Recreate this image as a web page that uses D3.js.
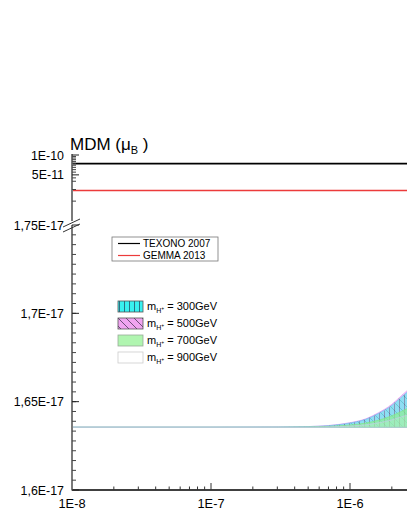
<!DOCTYPE html>
<html>
<head>
<meta charset="utf-8">
<script src="https://cdn.jsdelivr.net/npm/d3@7"></script>
<style>
  body { margin: 0; background: #fff; }
  svg { display: block; font-family: Arial, "Liberation Sans", sans-serif; }
</style>
</head>
<body>
<div class="chart"></div>
<script>
var w = 407;
var h = 527;

// x values (mass parameter)
var xs = [1e-8, 1e-7, 3e-7, 5e-7, 7e-7, 1e-6, 1.3e-6, 1.6e-6, 2e-6, 2.3e-6, 2.6e-6];
// band bounds, in units of 1E-17 muB
var low = [1.6355, 1.6355, 1.6355, 1.6355, 1.6355, 1.6355, 1.6355, 1.6355, 1.6355, 1.6355, 1.6355];
var up300 = [1.6355, 1.6355, 1.6356, 1.6359, 1.6364, 1.6379, 1.6400, 1.6433, 1.6479, 1.6520, 1.6556];
var up500 = [1.6355, 1.6355, 1.6356, 1.6359, 1.6365, 1.6381, 1.6403, 1.6437, 1.6485, 1.6528, 1.6565];
var up700 = [1.6355, 1.6355, 1.6355, 1.6357, 1.6360, 1.6368, 1.6379, 1.6395, 1.6420, 1.6442, 1.6462];
var up900 = [1.6355, 1.6355, 1.6355, 1.6356, 1.6357, 1.6362, 1.6369, 1.6380, 1.6397, 1.6412, 1.6425];

// experimental limits
var limitNames = ["TEXONO 2007", "GEMMA 2013"];
var limitValues = [7.4e-11, 2.9e-11];
var limitColors = ["#000000", "#ec3b3b"];

var bandNames = ["300GeV", "500GeV", "700GeV", "900GeV"];

var xTickLabels = ["1E-8", "1E-7", "1E-6"];
var yLowTicks = [1.6, 1.65, 1.7, 1.75];
var yLowLabels = ["1,6E-17", "1,65E-17", "1,7E-17", "1,75E-17"];
var yTopTicks = [1e-10, 5e-11];
var yTopLabels = ["1E-10", "5E-11"];

var x = d3.scaleLog().domain([1e-8, 1e-5]).range([72, 72 + 3 * 139]);
var yLow = d3.scaleLinear().domain([1.6, 1.75]).range([490, 225]);
var yTop = d3.scaleLog().domain([1e-11, 1e-10]).range([221, 155]);

var svg = d3.select(".chart")
    .append("svg")
    .attr("width", w)
    .attr("height", h);

var defs = svg.append("defs");
// vertical hatch for 300GeV
var p1 = defs.append("pattern").attr("id", "hatchV")
    .attr("patternUnits", "userSpaceOnUse").attr("width", 5).attr("height", 5);
p1.append("rect").attr("width", 5).attr("height", 5).attr("fill", "#38f0f0");
p1.append("line").attr("x1", 4.5).attr("y1", 0).attr("x2", 4.5).attr("y2", 5)
    .attr("stroke", "#24506a").attr("stroke-width", 0.8);
// diagonal hatch for 500GeV
var p2 = defs.append("pattern").attr("id", "hatchD")
    .attr("patternUnits", "userSpaceOnUse").attr("width", 8).attr("height", 8);
p2.append("rect").attr("width", 8).attr("height", 8).attr("fill", "#f0a4f0");
p2.append("path").attr("d", "M0,0 L8,8 M-1,7 L1,9 M7,-1 L9,1")
    .attr("stroke", "#4a3a5a").attr("stroke-width", 0.8);

// bands
var pts = xs.map(function(d, i) { return i; });
function band(upper) {
  return d3.area()
    .x(function(i) { return x(xs[i]); })
    .y0(function(i) { return yLow(low[i]); })
    .y1(function(i) { return yLow(upper[i]); })
    .curve(d3.curveMonotoneX);
}
var bands = [
  {up: up500, fill: "url(#hatchD)", op: 0.6, stroke: "#e090f0"},
  {up: up300, fill: "url(#hatchV)", op: 0.55, stroke: "#70b8f0"},
  {up: up700, fill: "#8ef08e", op: 0.65, stroke: "#80e880"},
  {up: up900, fill: "#ffffff", op: 0.15, stroke: "#c8c8ec"}
];
svg.selectAll(".band")
    .data(bands)
    .enter()
    .append("path")
    .attr("class", "band")
    .attr("d", function(d) { return band(d.up)(pts); })
    .attr("fill", function(d) { return d.fill; })
    .attr("fill-opacity", function(d) { return d.op; })
    .attr("stroke", function(d) { return d.stroke; })
    .attr("stroke-width", 0.8)
    .attr("stroke-opacity", 0.8);

// limit lines
svg.selectAll(".limit")
    .data(limitValues)
    .enter()
    .append("line")
    .attr("x1", 72).attr("x2", w)
    .attr("y1", function(d) { return yTop(d); })
    .attr("y2", function(d) { return yTop(d); })
    .attr("stroke", function(d, i) { return limitColors[i]; })
    .attr("stroke-width", function(d, i) { return i == 0 ? 1.8 : 1.5; });

// x axis
svg.append("line").attr("x1", 72).attr("x2", w).attr("y1", 490).attr("y2", 490)
    .attr("stroke", "#000").attr("stroke-width", 1.5);
var xt = x.ticks();
svg.selectAll(".xtick")
    .data(xt)
    .enter()
    .append("line")
    .attr("x1", function(d) { return x(d); })
    .attr("x2", function(d) { return x(d); })
    .attr("y1", 490)
    .attr("y2", function(d) {
      var major = Math.abs(Math.log10(d) - Math.round(Math.log10(d))) < 1e-6;
      return major ? 483 : 486.5;
    })
    .attr("stroke", "#333").attr("stroke-width", 1);
svg.selectAll(".xlabel")
    .data(xTickLabels)
    .enter()
    .append("text")
    .attr("x", function(d, i) { return x(Math.pow(10, -8 + i)); })
    .attr("y", 508)
    .attr("text-anchor", "middle")
    .attr("font-size", 12.8)
    .text(function(d) { return d; });

// y axis, lower linear part
svg.append("line").attr("x1", 72).attr("x2", 72).attr("y1", 490.5).attr("y2", 225)
    .attr("stroke", "#7a7a7a").attr("stroke-width", 2);
var minorLow = d3.range(0, 27).map(function(i) { return 1.6 + i * 0.05 / 9; });
svg.selectAll(".ymin")
    .data(minorLow)
    .enter()
    .append("line")
    .attr("x1", 72).attr("x2", 76)
    .attr("y1", function(d) { return yLow(d); })
    .attr("y2", function(d) { return yLow(d); })
    .attr("stroke", "#444").attr("stroke-width", 1);
svg.selectAll(".ymaj")
    .data(yLowTicks)
    .enter()
    .append("line")
    .attr("x1", 72).attr("x2", 79)
    .attr("y1", function(d) { return yLow(d); })
    .attr("y2", function(d) { return yLow(d); })
    .attr("stroke", "#222").attr("stroke-width", 1);
svg.selectAll(".ylab")
    .data(yLowTicks)
    .enter()
    .append("text")
    .attr("x", 64)
    .attr("y", function(d) { return yLow(d) + 4.5; })
    .attr("text-anchor", "end")
    .attr("font-size", 12.4)
    .text(function(d, i) { return yLowLabels[i]; });

// y axis, upper log part
svg.append("line").attr("x1", 72).attr("x2", 72).attr("y1", 221).attr("y2", 154)
    .attr("stroke", "#7a7a7a").attr("stroke-width", 2);
var minorTop = [2e-11, 3e-11, 4e-11, 4.5e-11, 5.5e-11, 6e-11, 6.5e-11, 7e-11, 7.5e-11, 8e-11, 8.5e-11, 9e-11, 9.5e-11];
svg.selectAll(".ytmin")
    .data(minorTop)
    .enter()
    .append("line")
    .attr("x1", 72).attr("x2", 76)
    .attr("y1", function(d) { return yTop(d); })
    .attr("y2", function(d) { return yTop(d); })
    .attr("stroke", "#444").attr("stroke-width", 1);
svg.selectAll(".ytmaj")
    .data(yTopTicks)
    .enter()
    .append("line")
    .attr("x1", 72).attr("x2", 79)
    .attr("y1", function(d) { return yTop(d); })
    .attr("y2", function(d) { return yTop(d); })
    .attr("stroke", "#222").attr("stroke-width", 1);
svg.selectAll(".ytlab")
    .data(yTopTicks)
    .enter()
    .append("text")
    .attr("x", 64)
    .attr("y", function(d) { return yTop(d) + 4.5; })
    .attr("text-anchor", "end")
    .attr("font-size", 12.4)
    .text(function(d, i) { return yTopLabels[i]; });

// axis break marks
svg.append("path")
    .attr("d", "M63,227 L80,219 M63,232 L80,224")
    .attr("stroke", "#333").attr("stroke-width", 1).attr("fill", "none");

// title
var title = svg.append("text").attr("x", 70).attr("y", 150).attr("font-size", 17);
title.append("tspan").text("MDM (\u03bc");
title.append("tspan").attr("font-size", 11).attr("dy", 4).text("B");
title.append("tspan").attr("dy", -4).text(" )");

// legend: limits
svg.append("rect").attr("x", 112).attr("y", 237).attr("width", 106).attr("height", 24)
    .attr("fill", "#fff").attr("stroke", "#777").attr("stroke-width", 0.8);
limitNames.forEach(function(name, i) {
  var yy = 243.5 + i * 12;
  svg.append("line").attr("x1", 118).attr("x2", 140).attr("y1", yy).attr("y2", yy)
      .attr("stroke", limitColors[i]).attr("stroke-width", 1.2);
  svg.append("text").attr("x", 143).attr("y", yy + 3.5).attr("font-size", 10)
      .text(name);
});

// legend: bands
var legFills = ["url(#hatchV)", "url(#hatchD)", "#b0f5b0", "#ffffff"];
var legStroke = ["#555", "#555", "#9a9", "#ccc"];
bandNames.forEach(function(name, i) {
  var yy = 301 + i * 17;
  svg.append("rect").attr("x", 118).attr("y", yy).attr("width", 25).attr("height", 11)
      .attr("fill", legFills[i]).attr("stroke", legStroke[i]).attr("stroke-width", 0.8);
  var t = svg.append("text").attr("x", 147).attr("y", yy + 9).attr("font-size", 11);
  t.append("tspan").text("m");
  t.append("tspan").attr("font-size", 7).attr("dy", 3).text("H");
  t.append("tspan").attr("font-size", 5).attr("dy", -3).text("+");
  t.append("tspan").attr("dy", 0).text(" = " + name);
});
</script>
</body>
</html>
